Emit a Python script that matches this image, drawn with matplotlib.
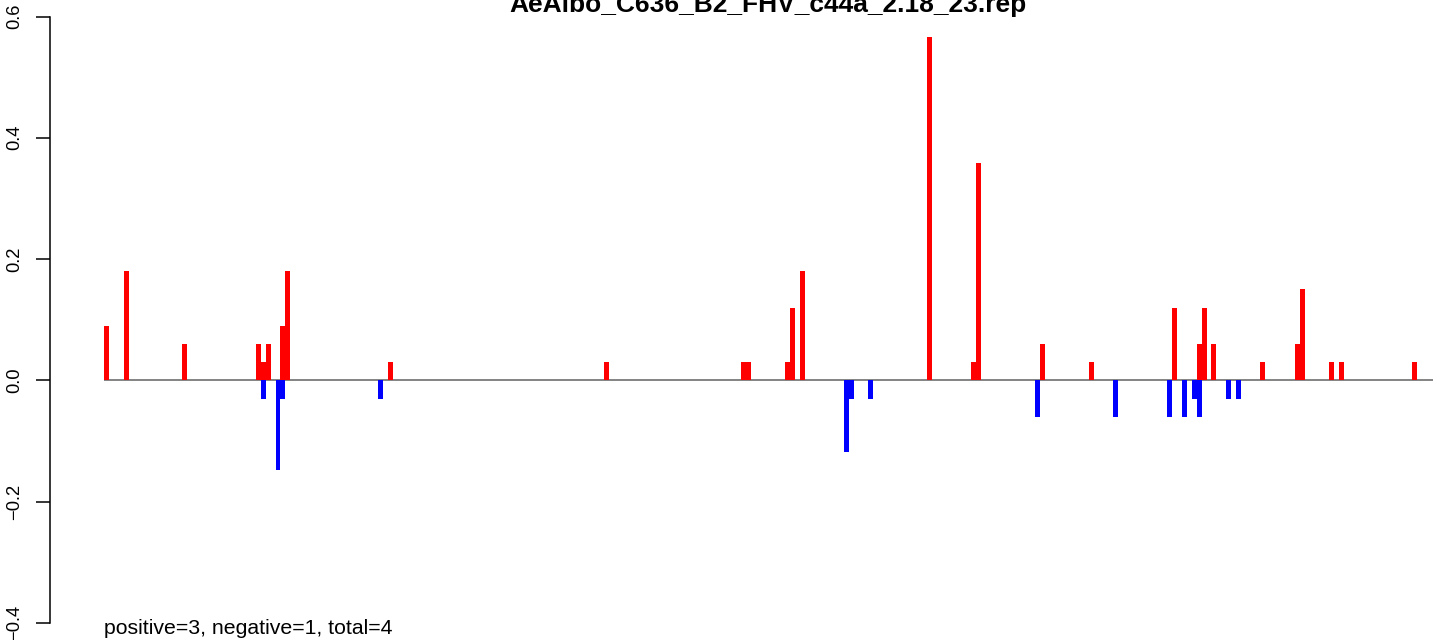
import matplotlib
matplotlib.use("Agg")
import matplotlib.pyplot as plt

plt.rcParams['font.family'] = ['Liberation Sans', 'DejaVu Sans']

title = "AeAlbo_C636_B2_FHV_c44a_2.18_23.rep"
summary = "positive=3, negative=1, total=4"

# positive-strand (red) bars: position index and value
pos_x = [0, 4, 16, 31, 32, 33, 36, 37, 58, 102, 130, 131, 139, 140, 142,
         168, 177, 178, 191, 201, 218, 223, 224, 226, 236, 243, 244, 250, 252, 267]
pos_y = [0.09, 0.18, 0.06, 0.06, 0.03, 0.06, 0.09, 0.18, 0.03, 0.03, 0.03, 0.03, 0.03, 0.12, 0.18,
         0.566, 0.03, 0.358, 0.06, 0.03, 0.12, 0.06, 0.12, 0.06, 0.03, 0.06, 0.15, 0.03, 0.03, 0.03]

# negative-strand (blue) bars
neg_x = [32, 35, 36, 56, 151, 152, 156, 190, 206, 217, 220, 222, 223, 229, 231]
neg_y = [-0.03, -0.147, -0.03, -0.03, -0.118, -0.03, -0.03, -0.06, -0.06, -0.06, -0.06, -0.03, -0.06, -0.03, -0.03]

yticks = [-0.4, -0.2, 0.0, 0.2, 0.4, 0.6]
ytick_labels = ["\u22120.4", "\u22120.2", "0.0", "0.2", "0.4", "0.6"]

W, H = 1433, 640
fig = plt.figure(figsize=(W / 100, H / 100), dpi=100)
ax_left, ax_right = 50, 1433
ax_top, ax_bottom = 16.5, 623
ax = fig.add_axes([ax_left / W, (H - ax_bottom) / H, (ax_right - ax_left) / W, (ax_bottom - ax_top) / H])

px_per_unit = 4.9
first_px = 104
x_lo = -(first_px - ax_left) / px_per_unit
x_hi = (ax_right - first_px) / px_per_unit
ax.set_xlim(x_lo, x_hi)
ax.set_ylim(-0.4, 0.6)

ax.hlines(0, 0, x_hi, color='#6e6e6e', lw=1.2, zorder=1)
ax.bar(pos_x, pos_y, width=1, align='edge', color='#ff0000', linewidth=0, zorder=2)
ax.bar(neg_x, neg_y, width=1, align='edge', color='#0000ff', linewidth=0, zorder=2)

for s in ['top', 'right', 'bottom']:
    ax.spines[s].set_visible(False)
ax.spines['left'].set_linewidth(1.1)
ax.set_xticks([])
ax.set_yticks(yticks)
ax.set_yticklabels(ytick_labels, rotation=90, va='center')
ax.tick_params(axis='y', length=10, width=1.1, pad=9, labelsize=13.2)

fig.text(768 / W, 1 - 12 / H, title, ha='center', va='baseline', fontsize=19, fontweight='bold')
fig.text(104 / W, 1 - 634 / H, summary, ha='left', va='baseline', fontsize=15.3)

fig.savefig("out.png", dpi=100)
